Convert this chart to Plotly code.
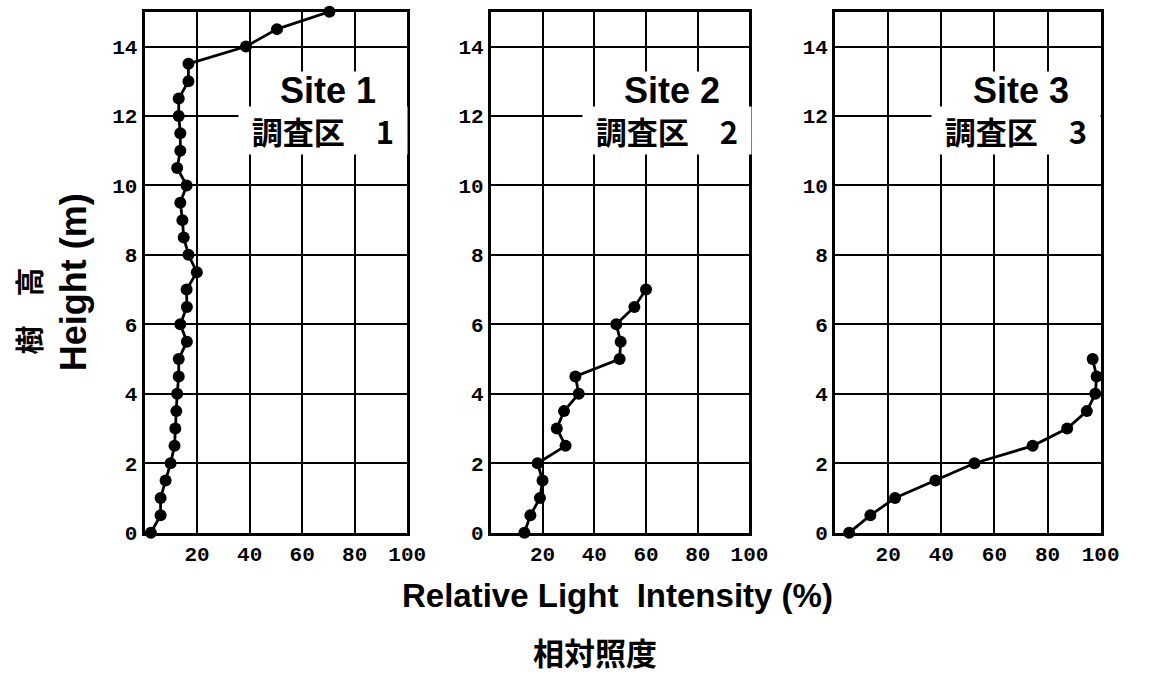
import plotly.graph_objects as go

# Vertical light profiles: relative light intensity (%) at each height (m)
site1_height = [0, 0.5, 1, 1.5, 2, 2.5, 3, 3.5, 4, 4.5, 5, 5.5, 6, 6.5, 7, 7.5,
                8, 8.5, 9, 9.5, 10, 10.5, 11, 11.5, 12, 12.5, 13, 13.5, 14, 14.5, 15]
site1_light = [2.4, 6.1, 6.1, 8, 9.9, 11.4, 11.7, 12.1, 12.4, 13, 13, 16.1, 13.6, 16.1, 16, 19.9,
               16.7, 14.9, 14.4, 13.6, 16, 12.4, 13.6, 13.6, 13, 13, 16.7, 16.7, 38.6, 50.4, 70.4]

site2_height = [0, 0.5, 1, 1.5, 2, 2.5, 3, 3.5, 4, 4.5, 5, 5.5, 6, 6.5, 7]
site2_light = [13, 15.3, 19, 20, 18.1, 28.9, 25.5, 28.3, 34, 32.7, 49.8, 50.2, 48.5, 55.5, 60]

site3_height = [0, 0.5, 1, 1.5, 2, 2.5, 3, 3.5, 4, 4.5, 5]
site3_light = [5.3, 13.3, 22.6, 37.8, 52.5, 74.4, 87.4, 94.8, 98, 98.5, 97]

site_names = ["Site 1", "Site 2", "Site 3"]
site_names_ja = ["調査区\u30001", "調査区\u30002", "調査区\u30003"]

x_ticks = [20, 40, 60, 80, 100]
y_ticks = [0, 2, 4, 6, 8, 10, 12, 14]

W, H = 1157, 683
panels_px = [(147, 414), (499, 762), (849, 1119)]
plot_top_px, plot_bottom_px = 12, 543

sites = [(site1_light, site1_height), (site2_light, site2_height), (site3_light, site3_height)]

fig = go.Figure()

tick_font = dict(family="Liberation Mono", size=21, color="black", weight="bold")
sans = "Liberation Sans"
cjk = "Noto Sans CJK JP"

for i, (light, height) in enumerate(sites):
    n = "" if i == 0 else str(i + 1)
    fig.add_trace(go.Scatter(
        x=light, y=height, mode="lines+markers",
        line=dict(color="black", width=2.8),
        marker=dict(color="black", size=12),
        xaxis="x" + n, yaxis="y" + n, showlegend=False, cliponaxis=False,
    ))
    x0, x1 = panels_px[i]
    axis_common = dict(
        showline=True, mirror=True, linewidth=3, linecolor="black",
        showgrid=True, gridcolor="black", gridwidth=1.7,
        zeroline=False, ticks="", tickfont=tick_font, fixedrange=True,
    )
    fig.update_layout(**{
        "xaxis" + n: dict(
            axis_common, range=[0, 100], tickvals=x_ticks,
            domain=[x0 / W, x1 / W], anchor="y" + n,
        ),
        "yaxis" + n: dict(
            axis_common, range=[0, 15], tickvals=y_ticks,
            domain=[1 - plot_bottom_px / H, 1 - plot_top_px / H], anchor="x" + n,
        ),
    })
    # Site labels with white boxes that interrupt the grid
    fig.add_annotation(
        x=70, y=12.72, xref="x" + n, yref="y" + n, text="<b>%s</b>" % site_names[i],
        showarrow=False, font=dict(family=sans, size=36, color="black"),
        xanchor="center", yanchor="middle",
        bgcolor="white", width=128, height=37, borderpad=0,
    )
    fig.add_annotation(
        x=68, y=11.58, xref="x" + n, yref="y" + n, text="<b>%s</b>" % site_names_ja[i],
        showarrow=False, font=dict(family=cjk, size=31, color="black"),
        xanchor="center", yanchor="middle",
        bgcolor="white", width=168, height=47, borderpad=0,
    )

# Shared axis titles
fig.add_annotation(
    x=628 / W, y=1 - 607 / H, xref="paper", yref="paper",
    xanchor="center", yanchor="middle",
    text="<b>Relative Light\u00a0\u00a0Intensity (%)</b>", showarrow=False,
    font=dict(family=sans, size=33, color="black"),
)
fig.add_annotation(
    x=605 / W, y=1 - 664 / H, xref="paper", yref="paper",
    xanchor="center", yanchor="middle",
    text="<b>相対照度</b>", showarrow=False,
    font=dict(family=cjk, size=31, color="black"),
)
fig.add_annotation(
    x=75 / W, y=1 - 288 / H, xref="paper", yref="paper",
    xanchor="center", yanchor="middle",
    text="<b>Height (m)</b>", showarrow=False, textangle=-90,
    font=dict(family=sans, size=36, color="black"),
)
fig.add_annotation(
    x=28 / W, y=1 - 317 / H, xref="paper", yref="paper",
    xanchor="center", yanchor="middle",
    text="<b>樹\u3000高</b>", showarrow=False, textangle=-90,
    font=dict(family=cjk, size=29, color="black"),
)

fig.update_layout(
    width=W, height=H,
    margin=dict(l=0, r=0, t=0, b=0),
    paper_bgcolor="white", plot_bgcolor="white",
    showlegend=False,
)

fig.write_html("out.html", config={"displayModeBar": False})
